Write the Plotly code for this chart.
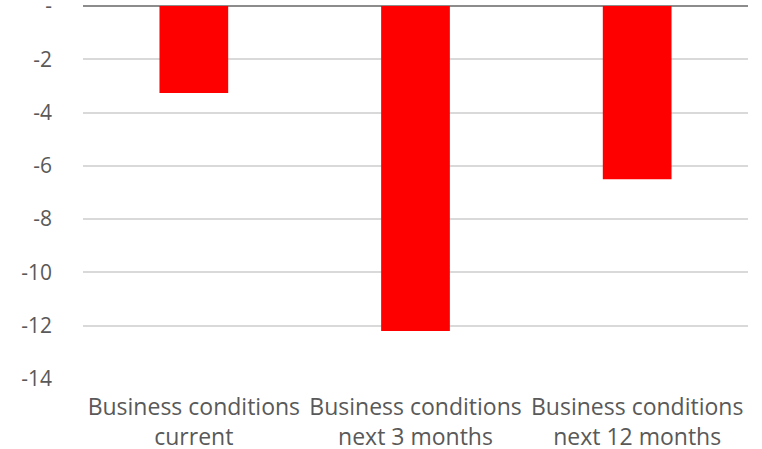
import plotly.graph_objects as go

categories = ["Business conditions<br>current", "Business conditions<br>next 3 months", "Business conditions<br>next 12 months"]
values = [-3.27, -12.2, -6.5]
tick_vals = [0, -2, -4, -6, -8, -10, -12, -14]
tick_text = ["-", "-2", "-4", "-6", "-8", "-10", "-12", "-14"]

font_family = "Open Sans"
fig = go.Figure(go.Bar(x=categories, y=values, marker=dict(color="#ff0000", line=dict(width=0))))
fig.update_layout(
    width=762, height=449,
    margin=dict(l=83, r=14, t=6, b=70),
    paper_bgcolor="white", plot_bgcolor="white",
    bargap=0.69,
    showlegend=False,
    font=dict(family=font_family, size=22, color="#595959"),
)
fig.update_yaxes(range=[-14, 0], tickvals=tick_vals, ticktext=tick_text,
                 showgrid=True, gridcolor="#d9d9d9", gridwidth=1.5,
                 zeroline=True, zerolinecolor="#8c8c8c", zerolinewidth=2,
                 showline=False, ticklabelstandoff=30, ticklabeloverflow="allow",
                 automargin=False, tickfont=dict(size=21))
fig.update_xaxes(showline=False, showgrid=False, ticklabelstandoff=12,
                 ticklabeloverflow="allow", automargin=False, tickfont=dict(size=23))
fig.write_html("out.html")
